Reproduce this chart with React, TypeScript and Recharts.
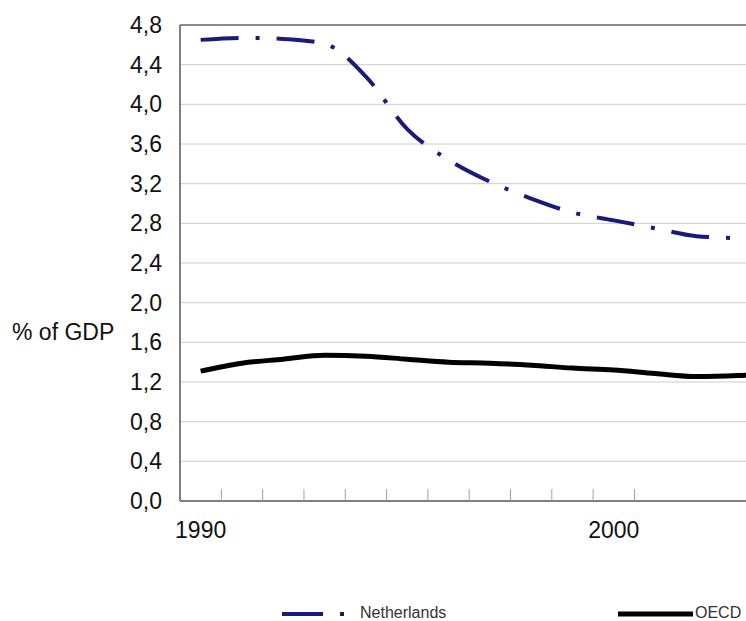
// @ts-nocheck
import React from 'react'
import { LineChart, Line, XAxis, YAxis, CartesianGrid, ReferenceLine } from 'recharts'

const years = [1990, 1991, 1992, 1993, 1994, 1995, 1996, 1997, 1998, 1999, 2000, 2001, 2002, 2003, 2004]
const netherlands = [4.65, 4.67, 4.66, 4.61, 4.28, 3.75, 3.44, 3.22, 3.05, 2.91, 2.83, 2.75, 2.67, 2.65, 2.63]
const oecd = [1.31, 1.39, 1.43, 1.47, 1.46, 1.43, 1.4, 1.39, 1.37, 1.34, 1.32, 1.285, 1.255, 1.265, 1.29]
const yTicks = [0, 0.4, 0.8, 1.2, 1.6, 2.0, 2.4, 2.8, 3.2, 3.6, 4.0, 4.4, 4.8]
const yearLabels = [1990, 2000]
const minorTicks = [1990.5, 1991.5, 1992.5, 1993.5, 1994.5, 1995.5, 1996.5, 1997.5, 1998.5, 1999.5, 2000.5]

const data = years.map((y, i) => ({ year: y, netherlands: netherlands[i], oecd: oecd[i] }))

const FONT = '"Liberation Sans", Arial, sans-serif'
const NAVY = '#1a1a78'

const fmt = (v: number) => v.toFixed(1).replace('.', ',')

export default function App() {
  return (
    <div style={{ position: 'absolute', left: 0, top: 0, width: 746, height: 621, overflow: 'hidden', background: '#fff', fontFamily: FONT }}>
      <LineChart width={746} height={621} data={data} margin={{ top: 25, right: 0, bottom: 80, left: 0 }}>
        <CartesianGrid vertical={false} stroke="#cccccc" strokeWidth={1} />
        <XAxis
          dataKey="year"
          type="number"
          domain={[1989.5, 2003.2]}
          allowDataOverflow
          ticks={yearLabels}
          interval={0}
          tickLine={false}
          tickSize={6}
          tickMargin={15}
          height={40}
          axisLine={{ stroke: '#7f7f7f', strokeWidth: 2 }}
          tick={{ fill: '#111', fontSize: 23, fontFamily: FONT }}
        />
        <XAxis
          xAxisId="minor"
          dataKey="year"
          type="number"
          domain={[1989.5, 2003.2]}
          allowDataOverflow
          ticks={minorTicks}
          interval={0}
          mirror
          height={1}
          axisLine={false}
          tickSize={12}
          tickLine={{ stroke: '#a0a0a0', strokeWidth: 1 }}
          tick={() => <g />}
        />
        <YAxis
          domain={[0, 4.8]}
          ticks={yTicks}
          interval={0}
          width={180}
          tickLine={false}
          tickSize={6}
          tickMargin={12}
          tickFormatter={fmt}
          axisLine={{ stroke: '#7f7f7f', strokeWidth: 2 }}
          tick={{ fill: '#111', fontSize: 23, fontFamily: FONT }}
          label={{
            content: () => (
              <text x={12} y={340} fontSize={23} fontFamily={FONT} fill="#111">% of GDP</text>
            )
          }}
        />
        <ReferenceLine y={4.8} stroke="#8a8a8a" strokeWidth={2} />
        <Line type="monotone" dataKey="netherlands" stroke={NAVY} strokeWidth={4} strokeDasharray="38 17 4 17" dot={false} isAnimationActive={false} />
        <Line type="monotone" dataKey="oecd" stroke="#000" strokeWidth={5} dot={false} isAnimationActive={false} />
      </LineChart>
      <svg width={746} height={621} style={{ position: 'absolute', left: 0, top: 0, pointerEvents: 'none' }}>
        <line x1={282} y1={614} x2={323} y2={614} stroke={NAVY} strokeWidth={4} />
        <line x1={340} y1={614} x2={344} y2={614} stroke="#222" strokeWidth={4} />
        <text x={360} y={618} fontSize={16} fontFamily={FONT} fill="#333">Netherlands</text>
        <line x1={618} y1={614} x2={693} y2={614} stroke="#000" strokeWidth={5} />
        <text x={695} y={618} fontSize={16} fontFamily={FONT} fill="#333">OECD</text>
      </svg>
    </div>
  )
}
